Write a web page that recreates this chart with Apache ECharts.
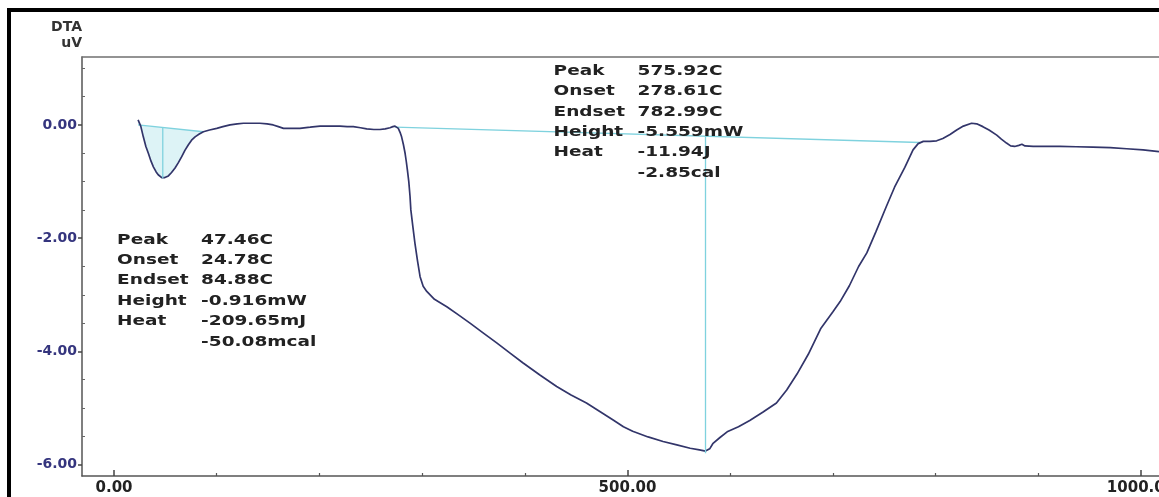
<!DOCTYPE html>
<html><head><meta charset="utf-8">
<script src="https://cdn.jsdelivr.net/npm/echarts@6/dist/echarts.min.js"></script>
<style>html,body{margin:0;padding:0;background:#fff;overflow:hidden}#c{width:1159px;height:497px}</style>
</head><body><div id="c"></div>
<script>
// ---- data (temperature in C, DTA signal in uV) ----
const temperature = [
  23.4, 26, 28.5, 31, 33.4, 36, 38.3, 41, 43, 46.4,
  49.5, 52.9, 56, 59.4, 62.5, 65.9, 69, 72.4, 75.5, 78.9,
  83, 87, 93, 100, 106, 113, 120, 126, 134, 142,
  149, 155, 160, 165, 172, 181, 191, 200.6, 210, 220,
  227, 233, 240, 246, 253, 259, 264, 268.7, 271.5, 273.6,
  275.5, 276.8, 278.5, 280, 281.8, 283.4, 284.6, 285.6, 287, 288.2,
  289, 291, 293, 295.5, 298, 301, 304.5, 312, 324, 335,
  346.6, 360, 372.6, 385, 398, 415, 431, 445, 460, 473,
  486, 496, 505, 520, 534.6, 548, 561, 570, 575.9, 580,
  583, 590, 597, 608, 619, 632, 645, 655, 665, 676,
  688, 700, 707, 716, 725, 733, 742, 752, 760, 770,
  778, 783, 788, 794.5, 801, 807, 814, 820.5, 827, 835,
  840, 846, 852, 859.5, 864, 869, 873, 877, 881, 884,
  887, 895, 910, 921, 937, 953, 970, 986, 1002, 1017.5
];
const dta = [
  0.09, -0.02, -0.21, -0.38, -0.5, -0.64, -0.74, -0.83, -0.88, -0.93,
  -0.93, -0.9, -0.84, -0.76, -0.67, -0.56, -0.45, -0.35, -0.27, -0.21,
  -0.16, -0.12, -0.09, -0.06, -0.03, 0.0, 0.02, 0.03, 0.03, 0.03,
  0.02, 0.0, -0.03, -0.06, -0.06, -0.06, -0.04, -0.02, -0.02, -0.02,
  -0.03, -0.03, -0.05, -0.07, -0.08, -0.08, -0.07, -0.05, -0.03, -0.02,
  -0.03, -0.06, -0.13, -0.21, -0.35, -0.5, -0.65, -0.79, -1.0, -1.26,
  -1.5, -1.8, -2.09, -2.4, -2.68, -2.85, -2.94, -3.08, -3.21, -3.35,
  -3.5, -3.68, -3.85, -4.02, -4.2, -4.42, -4.62, -4.77, -4.91, -5.06,
  -5.21, -5.33, -5.41, -5.51, -5.59, -5.65, -5.71, -5.74, -5.76, -5.72,
  -5.63, -5.52, -5.42, -5.33, -5.22, -5.07, -4.91, -4.68, -4.4, -4.05,
  -3.6, -3.3, -3.12, -2.84, -2.5, -2.26, -1.88, -1.44, -1.1, -0.75,
  -0.44, -0.33, -0.29, -0.29, -0.28, -0.24, -0.17, -0.09, -0.02, 0.03,
  0.02, -0.03, -0.09, -0.18, -0.25, -0.32, -0.37, -0.38, -0.36, -0.34,
  -0.37, -0.38, -0.38, -0.38, -0.385, -0.39, -0.40, -0.42, -0.44, -0.47
];
const xMajorTicks = [0, 500, 1000];
const xMinorTicks = [100, 200, 300, 400, 600, 700, 800, 900];
const yMajorTicks = [-6, -4, -2, 0];
const yMinorTicks = [-5.5, -5, -4.5, -3.5, -3, -2.5, -1.5, -1, -0.5, 0.5, 1];
// integration baselines and peak markers
const baseline1 = [[23.4, 0.0], [87, -0.12]];
const peak1Line = [[47.46, -0.04], [47.46, -0.94]];
const baseline2 = [[273.6, -0.04], [785, -0.31]];
const peak2Line = [[575.92, -0.20], [575.92, -5.80]];
// annotation text (anchor in data coordinates: temperature, DTA)
const annot1Anchor = [3, -2.03];
const annot1Labels = ['Peak', 'Onset', 'Endset', 'Height', 'Heat', ''];
const annot1Values = ['47.46C', '24.78C', '84.88C', '-0.916mW', '-209.65mJ', '-50.08mcal'];
const annot2Anchor = [428, 0.95];
const annot2Labels = ['Peak', 'Onset', 'Endset', 'Height', 'Heat', ''];
const annot2Values = ['575.92C', '278.61C', '782.99C', '-5.559mW', '-11.94J', '-2.85cal'];

const curve = temperature.map((t, i) => [t, dta[i]]);
const CURVE = '#32356a', CYAN = '#7fd2de', FILL = '#ddf3f6';
const FONT = '"DejaVu Sans", "Liberation Sans", sans-serif';

const chart = echarts.init(document.getElementById('c'), null, {renderer: 'canvas'});

const xBase = {type: 'value', min: -31.2, max: 1017.5, splitLine: {show: false}};
const yBase = {type: 'value', min: -6.2, max: 1.2, splitLine: {show: false}};

const option = {
  animation: false,
  backgroundColor: '#fff',
  grid: {left: 82, top: 57, right: 0, bottom: 21, show: false, containLabel: false, outerBoundsMode: 'none'},
  xAxis: [
    Object.assign({}, xBase, {
      position: 'bottom',
      axisLine: {show: true, onZero: false, lineStyle: {color: '#555', width: 1.5}},
      axisTick: {show: true, inside: true, length: 6, customValues: xMajorTicks, lineStyle: {color: '#444', width: 1.5}},
      axisLabel: {show: true, customValues: xMajorTicks, formatter: v => v.toFixed(2), color: '#222',
        fontFamily: FONT, fontWeight: 'bold', fontSize: 15, margin: 5}
    }),
    Object.assign({}, xBase, {
      position: 'bottom',
      axisLine: {show: false, onZero: false},
      axisTick: {show: true, inside: true, length: 3, customValues: xMinorTicks, lineStyle: {color: '#555', width: 1.2}},
      axisLabel: {show: false}
    }),
    Object.assign({}, xBase, {
      position: 'top',
      axisLine: {show: true, onZero: false, lineStyle: {color: '#707070', width: 1.5}},
      axisTick: {show: false},
      axisLabel: {show: false}
    })
  ],
  yAxis: [
    Object.assign({}, yBase, {
      position: 'left',
      name: 'DTA\nuV',
      nameLocation: 'end',
      nameGap: 6,
      nameTextStyle: {align: 'right', verticalAlign: 'bottom', color: '#333', fontFamily: FONT, fontWeight: 'bold', fontSize: 14, lineHeight: 16, padding: 0},
      axisLine: {show: true, onZero: false, lineStyle: {color: '#555', width: 1.5}},
      axisTick: {show: true, inside: false, length: 4, customValues: yMajorTicks, lineStyle: {color: '#444', width: 1.5}},
      axisLabel: {show: true, customValues: yMajorTicks, formatter: v => v.toFixed(2), color: '#35357e',
        fontFamily: FONT, fontWeight: 'bold', fontSize: 14, margin: 5}
    }),
    Object.assign({}, yBase, {
      position: 'left',
      axisLine: {show: false, onZero: false},
      axisTick: {show: true, inside: true, length: 3, customValues: yMinorTicks, lineStyle: {color: '#666', width: 1}},
      axisLabel: {show: false}
    })
  ],
  series: [
    {
      type: 'custom', name: 'area1', silent: true, z: 1,
      data: [[baseline1[0][0], baseline1[0][1]]],
      renderItem: function (params, api) {
        const pts = [];
        for (let i = 0; i < temperature.length; i++) {
          if (temperature[i] >= baseline1[0][0] && temperature[i] <= baseline1[1][0]) pts.push(api.coord([temperature[i], dta[i]]));
        }
        pts.push(api.coord(baseline1[1]));
        pts.push(api.coord(baseline1[0]));
        return {type: 'polygon', shape: {points: pts}, style: {fill: FILL}};
      }
    },
    {type: 'line', name: 'baseline1', data: baseline1, showSymbol: false, z: 2, lineStyle: {color: CYAN, width: 1.3}},
    {type: 'line', name: 'baseline2', data: baseline2, showSymbol: false, z: 2, lineStyle: {color: CYAN, width: 1.3}},
    {type: 'line', name: 'DTA', data: curve, showSymbol: false, z: 3, smooth: false, lineStyle: {color: CURVE, width: 1.7}},
    {type: 'line', name: 'peak1', data: peak1Line, showSymbol: false, z: 4, lineStyle: {color: CYAN, width: 1.3}},
    {type: 'line', name: 'peak2', data: peak2Line, showSymbol: false, z: 4, lineStyle: {color: CYAN, width: 1.3}}
  ]
};
chart.setOption(option);

function annotation(anchor, labels, values) {
  const p = chart.convertToPixel({xAxisIndex: 0, yAxisIndex: 0}, anchor);
  const els = [];
  const rowH = 20.4, colGap = 84, sx = 1.32;
  labels.forEach((lab, i) => {
    const y = p[1] + i * rowH;
    if (lab) els.push({type: 'text', x: p[0], y: y, scaleX: sx, z: 10,
      style: {text: lab, fill: '#222', font: 'bold 14px ' + FONT, textAlign: 'left', textVerticalAlign: 'middle'}});
    els.push({type: 'text', x: p[0] + colGap, y: y, scaleX: sx, z: 10,
      style: {text: values[i], fill: '#222', font: 'bold 14px ' + FONT, textAlign: 'left', textVerticalAlign: 'middle'}});
  });
  return els;
}

const frame = [
  {type: 'rect', shape: {x: 7, y: 8, width: 4, height: 489}, style: {fill: '#000'}, z: 20},
  {type: 'rect', shape: {x: 7, y: 8, width: 1152, height: 4}, style: {fill: '#000'}, z: 20}
];

chart.setOption({
  graphic: [].concat(frame, annotation(annot1Anchor, annot1Labels, annot1Values), annotation(annot2Anchor, annot2Labels, annot2Values))
});
</script>
</body></html>
